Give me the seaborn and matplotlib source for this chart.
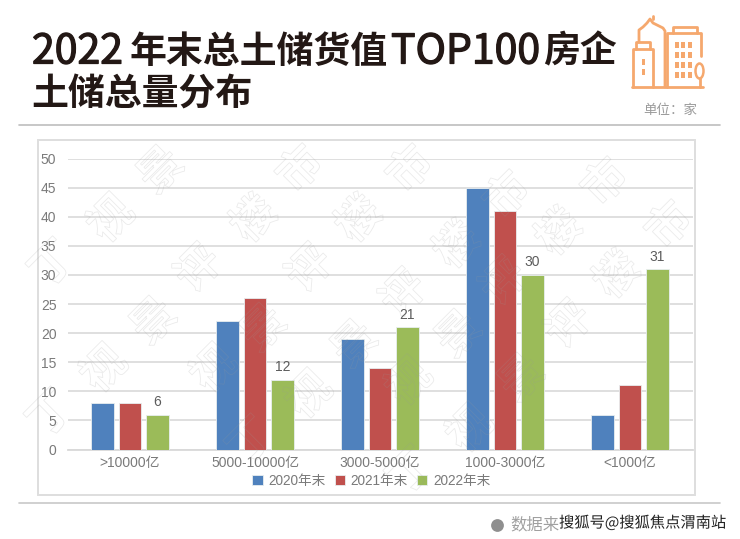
import pandas as pd
import matplotlib
matplotlib.use('Agg')
import matplotlib.pyplot as plt
import matplotlib.patheffects as pe
from matplotlib.font_manager import FontProperties
from matplotlib.patches import Rectangle, Ellipse, PathPatch
from matplotlib.textpath import TextPath
from matplotlib.transforms import Affine2D
import seaborn as sns

# chart values
categories = ['>10000亿', '5000-10000亿', '3000-5000亿', '1000-3000亿', '<1000亿']
y2020 = [8, 22, 19, 45, 6]
y2021 = [8, 26, 14, 41, 11]
y2022 = [6, 12, 21, 30, 31]
series_names = ['2020年末', '2021年末', '2022年末']
bar_colors = ['#4f81bd', '#c0504d', '#9bbb59']

df = pd.DataFrame({'range': categories * 3,
                   'year': [n for n in series_names for _ in categories],
                   'count': y2020 + y2021 + y2022})

sns.set_theme(style='white')
plt.rcParams['font.family'] = ['Liberation Sans', 'Noto Sans CJK SC', 'DejaVu Sans']
W, H = 740, 539
fig = plt.figure(figsize=(W / 100, H / 100), dpi=100, facecolor='white')

# bars
ax = fig.add_axes([67.5 / W, 1 - 449.5 / H, 625 / W, 291 / H])
ax.set_facecolor('none')
sns.barplot(data=df, x='range', y='count', hue='year', palette=bar_colors, width=0.66, gap=0.17,
            saturation=1, edgecolor='#e8eef0', linewidth=0.6, ax=ax, zorder=3)
ax.set_xlim(-0.5, 4.5)
ax.set_ylim(0, 50)
ax.set_yticks(range(0, 51, 5))
ax.set_xlabel('')
ax.set_ylabel('')
ax.grid(axis='y', color='#dcdcdc', lw=1.3, zorder=0)
ax.set_axisbelow(True)
sns.despine(ax=ax, left=True, top=True, right=True)
ax.spines['bottom'].set_color('#d9d9d9')
ax.spines['bottom'].set_linewidth(1.3)
ax.tick_params(axis='both', length=0, labelcolor='#7a7a7a', labelsize=10)
ax.tick_params(axis='x', pad=5)
ax.tick_params(axis='y', pad=8)
ax.bar_label(ax.containers[2], color='#5c5c5c', fontsize=10, padding=4)
ax.legend(loc='center', bbox_to_anchor=(0.486, -0.107), ncol=3, frameon=False, fontsize=9.8,
          labelcolor='#7a7a7a', handlelength=0.75, handleheight=0.75, handletextpad=0.4,
          columnspacing=0.7, borderpad=0, title=None)

# overlay in pixel coordinates for page furniture
page = fig.add_axes([0, 0, 1, 1], zorder=5)
page.set_xlim(0, W)
page.set_ylim(H, 0)
page.axis('off')
page.patch.set_alpha(0)

page.plot([19, 720], [125, 125], color='#bdbdbd', lw=1.2)
page.plot([19, 720], [503, 503], color='#c8c8c8', lw=1.2)
page.add_patch(Rectangle((38, 140), 657, 355, fill=False, edgecolor='#dedede', lw=1.4, zorder=0))

# title, latin runs are larger and lighter than the CJK runs
title_color = '#231815'
cjk = ['Noto Sans CJK SC']
semi_bold = [pe.withStroke(linewidth=0.9, foreground=title_color)]
for txt, tx in [('2022', 32), ('TOP100', 391)]:
    page.text(tx, 52, txt, fontsize=29.5, color=title_color, va='center', ha='left', family=cjk,
              path_effects=semi_bold)
for txt, tx in [('年末总土储货值', 130), ('房企', 543)]:
    page.text(tx, 52, txt, fontsize=26.6, fontweight='bold', color=title_color,
              va='center', ha='left', family=cjk)
page.text(31, 95, '土储总量分布', fontsize=26.6, fontweight='bold', color=title_color,
          va='center', ha='left', family=cjk)
page.text(670, 110, '单位：家', fontsize=9.7, color='#9a9a9a', va='center', ha='center', family=cjk)

# building icon
orange = '#f5a86e'
icon = dict(color=orange, lw=2.0, solid_capstyle='round', solid_joinstyle='round')
page.plot([632, 703], [87, 87], **icon)
page.plot([633, 633, 653, 653], [87, 49, 49, 87], **icon)
page.plot([636, 636, 650, 650], [49, 42, 42, 49], **icon)
page.plot([639, 639, 643, 647, 650, 653, 657, 663, 665, 665],
          [42, 30, 27, 23, 19, 23, 25, 28, 31, 87], **icon)
page.plot([653, 653], [19, 15.5], **icon)
page.plot([667, 667, 701, 701], [87, 33, 33, 56], **icon)
page.plot([673, 673, 697, 697], [33, 27, 27, 33], **icon)
for wx in [677, 683, 690]:
    for wy in [45, 55, 65, 75]:
        page.add_patch(Rectangle((wx - 1.7, wy - 3), 3.4, 6, color=orange, lw=0))
for wy in [62, 72]:
    page.add_patch(Rectangle((641.5, wy - 3), 3.4, 6, color=orange, lw=0))
page.add_patch(Ellipse((699.5, 71), 8, 15, fill=False, edgecolor=orange, lw=1.8))
page.plot([699.5, 699.5], [78, 87], **icon)

# faint outlined watermark
wm_font = FontProperties(family='Noto Sans CJK SC', weight='bold')
wm_marks = [('视', 109, 217), ('景', 159, 169), ('市', 298, 167), ('楼', 252, 217), ('楼', 357, 217),
            ('丁', 52, 263), ('评', 197, 267), ('评', 308, 267), ('景', 152, 320), ('景', 262, 327),
            ('视', 102, 367), ('视', 212, 367), ('视', 307, 393), ('丁', 50, 413), ('景', 353, 343),
            ('市', 408, 167), ('市', 505, 193), ('市', 603, 180), ('市', 667, 223), ('楼', 455, 243),
            ('楼', 557, 230), ('楼', 615, 273), ('评', 402, 292), ('评', 502, 280), ('评', 567, 323),
            ('景', 457, 333), ('景', 520, 377), ('视', 407, 380), ('视', 468, 427), ('丁', 250, 440),
            ('丁', 410, 470)]
for ch, cx, cy in wm_marks:
    tp = TextPath((0, 0), ch, size=44, prop=wm_font)
    box = tp.get_extents()
    tr = (Affine2D().translate(-(box.x0 + box.x1) / 2, -(box.y0 + box.y1) / 2)
          .rotate_deg(45).scale(1, -1).translate(cx, cy))
    page.add_patch(PathPatch(tp, transform=tr + page.transData, facecolor='none',
                             edgecolor='#9a9a9a', lw=0.6, alpha=0.2, zorder=4))

# footer
page.scatter([497], [525], s=85, color='#8f8f8f', lw=0)
page.text(510, 525, '数据来', fontsize=11.8, color='#a0a0a0', va='center', ha='left', family=cjk)
page.text(726, 523, '搜狐号@搜狐焦点渭南站', fontsize=11, color='#222222', va='center', ha='right', zorder=6,
          family=cjk, path_effects=[pe.withStroke(linewidth=2, foreground='white')])

fig.savefig('out.png', dpi=100)
